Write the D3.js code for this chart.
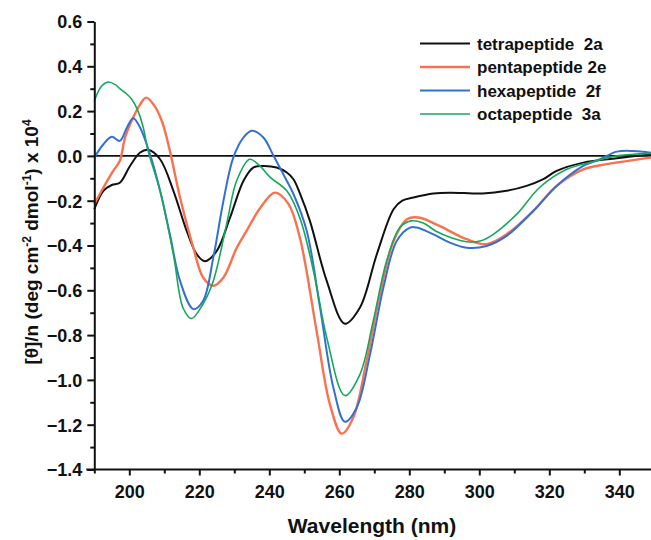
<!DOCTYPE html>
<html>
<head>
<meta charset="utf-8">
<script src="https://cdn.jsdelivr.net/npm/d3@7"></script>
<style>
  body { margin: 0; background: #fff; }
  text { font-family: "Liberation Sans", Arial, sans-serif; font-weight: bold; }
</style>
</head>
<body>
<div id="chart"></div>
<script>
// CD spectra, values
const seriesNames = ['tetrapeptide  2a', 'pentapeptide 2e', 'hexapeptide  2f', 'octapeptide  3a'];
const seriesColors = ['#111111', '#f9714f', '#3470d2', '#17a75c'];

const tetraWl = [190, 192.6, 195, 197.3, 200.2, 203.1, 205.4, 208.8, 212.6, 216.4, 219.3, 221.6, 225, 228.8, 232.6, 235.4, 238.5, 242.1, 245, 246.9, 248.8, 251.6, 256.4, 261.6, 265.9, 270.7, 275.5, 278, 281.2, 286.9, 291.6, 301, 307.8, 313.5, 318.3, 322.1, 329.7, 339.3, 350];
const tetraVal = [-0.238, -0.156, -0.13, -0.12, -0.045, 0.015, 0.027, -0.015, -0.156, -0.335, -0.44, -0.47, -0.424, -0.275, -0.112, -0.052, -0.045, -0.052, -0.074, -0.104, -0.17, -0.29, -0.558, -0.749, -0.677, -0.44, -0.238, -0.2, -0.186, -0.168, -0.164, -0.168, -0.156, -0.134, -0.104, -0.067, -0.03, -0.01, 0.008];

const pentaWl = [190, 192.6, 195.4, 197.3, 198.8, 201.1, 203.1, 204.8, 206.9, 209.3, 211.6, 214.5, 218.3, 221.1, 224, 226.9, 230.7, 233.5, 237.3, 241.6, 245.5, 248.8, 253.5, 257.3, 260.7, 264, 267.8, 271.6, 275.5, 279.3, 282.6, 288.3, 296.4, 302.1, 307.8, 315.4, 322.1, 329.7, 336.4, 344, 350];
const pentaVal = [-0.216, -0.141, -0.067, -0.022, 0.082, 0.171, 0.23, 0.26, 0.23, 0.156, 0.022, -0.186, -0.41, -0.543, -0.58, -0.543, -0.41, -0.335, -0.235, -0.164, -0.215, -0.37, -0.78, -1.108, -1.24, -1.168, -0.915, -0.617, -0.38, -0.283, -0.275, -0.31, -0.372, -0.394, -0.35, -0.246, -0.134, -0.06, -0.037, -0.019, -0.005];

const hexaWl = [190, 192.6, 195, 197.3, 199.3, 201.1, 203.1, 205.9, 208.8, 211.6, 214.5, 218.3, 221.1, 224, 226.9, 229.7, 232.6, 235, 238.3, 241.1, 244, 246.9, 250.7, 254.5, 258.3, 261.6, 265, 268.8, 272.6, 276.4, 280.2, 282.1, 286.9, 291.6, 296.4, 302.1, 307.8, 315.4, 322.1, 329.7, 334.5, 339.3, 344, 350];
const hexaVal = [-0.008, 0.052, 0.085, 0.067, 0.126, 0.168, 0.126, 0.008, -0.156, -0.35, -0.558, -0.684, -0.647, -0.454, -0.2, -0.008, 0.082, 0.112, 0.082, 0.004, -0.082, -0.17, -0.335, -0.677, -1.034, -1.187, -1.123, -0.885, -0.588, -0.38, -0.32, -0.32, -0.35, -0.387, -0.41, -0.402, -0.357, -0.246, -0.134, -0.045, -0.015, 0.019, 0.022, 0.012];

const octaWl = [190, 192, 194, 196, 197.3, 199, 200.7, 202.5, 204, 205.4, 208.8, 212.6, 215.4, 217.8, 221.1, 224, 227.8, 230.7, 234.4, 237.3, 240.2, 245, 248.8, 252.6, 256.4, 261.6, 265.9, 269.7, 273.5, 277.3, 280.5, 284, 287.5, 292, 296.4, 300.2, 304, 310.7, 317.3, 325, 332.6, 339.3, 350];
const octaVal = [0.245, 0.31, 0.33, 0.318, 0.3, 0.28, 0.253, 0.2, 0.126, 0.02, -0.156, -0.44, -0.68, -0.726, -0.66, -0.558, -0.305, -0.11, -0.015, -0.045, -0.095, -0.156, -0.28, -0.513, -0.81, -1.07, -0.975, -0.737, -0.47, -0.32, -0.29, -0.3, -0.335, -0.365, -0.383, -0.38, -0.35, -0.26, -0.14, -0.06, -0.025, 0, 0.012];

const xMajor = [200, 220, 240, 260, 280, 300, 320, 340];
const xMinor = [190, 210, 230, 250, 270, 290, 310, 330, 350];
const yMajor = [0.6, 0.4, 0.2, 0.0, -0.2, -0.4, -0.6, -0.8, -1.0, -1.2, -1.4];
const yMinor = [0.5, 0.3, 0.1, -0.1, -0.3, -0.5, -0.7, -0.9, -1.1, -1.3];

const width = 651, height = 540;

const svg = d3.select('#chart').append('svg')
    .attr('width', width)
    .attr('height', height);

const x = d3.scaleLinear().domain([190, 350]).range([94.3, 654.3]);
const y = d3.scaleLinear().domain([-1.4, 0.6]).range([469.5, 21.5]);

const series = [
    { name: seriesNames[0], color: seriesColors[0], wl: tetraWl, val: tetraVal, w: 2 },
    { name: seriesNames[1], color: seriesColors[1], wl: pentaWl, val: pentaVal, w: 2.4 },
    { name: seriesNames[2], color: seriesColors[2], wl: hexaWl, val: hexaVal, w: 2 },
    { name: seriesNames[3], color: seriesColors[3], wl: octaWl, val: octaVal, w: 1.6 }
];

// zero line
svg.append('line')
    .attr('x1', x(190)).attr('x2', width)
    .attr('y1', y(0)).attr('y2', y(0))
    .attr('stroke', '#111').attr('stroke-width', 1.8);

const line = d3.line()
    .x(d => x(d[0]))
    .y(d => y(d[1]))
    .curve(d3.curveCatmullRom.alpha(0.5));

svg.append('g')
    .selectAll('path')
    .data(series)
    .enter().append('path')
    .attr('d', s => line(s.wl.map((w, i) => [w, s.val[i]])))
    .attr('fill', 'none')
    .attr('stroke', s => s.color)
    .attr('stroke-width', s => s.w)
    .attr('stroke-linejoin', 'round');

// axes
const xAxis = svg.append('g')
    .attr('transform', `translate(0,${y(-1.4)})`)
    .call(d3.axisBottom(x).tickValues(xMajor).tickSize(6).tickSizeOuter(0).tickPadding(10).tickFormat(d3.format('d')));
svg.append('g')
    .attr('transform', `translate(0,${y(-1.4)})`)
    .call(d3.axisBottom(x).tickValues(xMinor).tickSize(4).tickSizeOuter(0).tickFormat(''))
    .select('.domain').remove();

const yAxis = svg.append('g')
    .attr('transform', `translate(${x(190)},0)`)
    .call(d3.axisLeft(y).tickValues(yMajor).tickSize(7).tickSizeOuter(0).tickPadding(5).tickFormat(d3.format('.1f')));
svg.append('g')
    .attr('transform', `translate(${x(190)},0)`)
    .call(d3.axisLeft(y).tickValues(yMinor).tickSize(4).tickSizeOuter(0).tickFormat(''))
    .select('.domain').remove();

xAxis.select('.domain').attr('d', `M${x(190) - 8},0H${width}`);
svg.selectAll('.domain, .tick line').attr('stroke', '#111').attr('stroke-width', 2);
xAxis.selectAll('.tick text').style('font-size', '18px').attr('fill', '#111');
yAxis.selectAll('.tick text').style('font-size', '18px').attr('fill', '#111').attr('dy', '0.36em');

// axis titles
svg.append('text')
    .attr('x', 372).attr('y', 533)
    .attr('text-anchor', 'middle')
    .style('font-size', '21px')
    .attr('fill', '#111')
    .text('Wavelength (nm)');

const yt = svg.append('text')
    .attr('transform', `translate(38,${242}) rotate(-90)`)
    .attr('text-anchor', 'middle')
    .style('font-size', '19px')
    .attr('fill', '#111');
yt.append('tspan').text('[θ]/n (deg cm');
yt.append('tspan').attr('dy', -7).style('font-size', '12px').text('-2');
yt.append('tspan').attr('dy', 7).text(' dmol');
yt.append('tspan').attr('dy', -7).style('font-size', '12px').text('-1');
yt.append('tspan').attr('dy', 7).text(') x 10');
yt.append('tspan').attr('dy', -7).style('font-size', '12px').text('4');

// legend
const legend = svg.append('g')
    .selectAll('g')
    .data(series)
    .enter().append('g')
    .attr('transform', (d, i) => `translate(420,${43.5 + i * 23.5})`);
legend.append('line')
    .attr('x1', 0).attr('x2', 50)
    .attr('stroke', d => d.color)
    .attr('stroke-width', d => d.w);
legend.append('text')
    .attr('x', 57).attr('dy', '0.36em')
    .style('font-size', '17px')
    .style('white-space', 'pre')
    .attr('fill', '#111')
    .text(d => d.name);
</script>
</body>
</html>
